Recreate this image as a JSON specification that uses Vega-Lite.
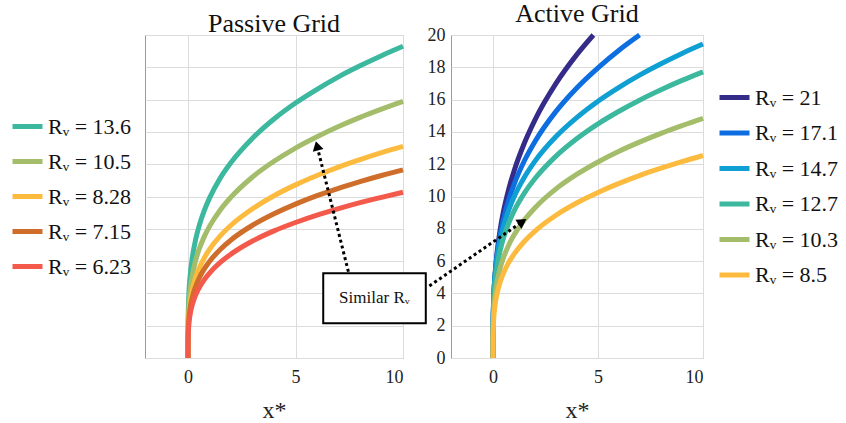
{
  "$schema": "https://vega.github.io/schema/vega-lite/v6.json",
  "padding": {"left": 9, "top": 0, "right": 0, "bottom": 0},
  "config": {
    "font": "Liberation Serif",
    "view": {"stroke": "#9a9a9a", "strokeWidth": 1},
    "axis": {"gridColor": "#dcdcdc", "gridWidth": 1, "labelFont": "Liberation Serif", "titleFont": "Liberation Serif", "labelColor": "#222", "titleColor": "#222", "ticks": false, "domain": false, "labelOverlap": false},
    "title": {"font": "Liberation Serif", "fontSize": 26, "fontWeight": "normal", "color": "#111", "offset": -2},
    "legend": {"title": null, "symbolType": "stroke", "symbolStrokeWidth": 5, "symbolSize": 900, "labelFont": "Liberation Serif", "labelFontSize": 22, "labelColor": "#111", "labelOffset": 3, "labelLimit": 300},
    "text": {"font": "Liberation Serif"}
  },
  "datasets": {
    "passive": [
      {"s": "Rᵥ = 13.6", "x": 0, "y": 0}, {"s": "Rᵥ = 13.6", "x": 0.002, "y": 1.63}, {"s": "Rᵥ = 13.6", "x": 0.01, "y": 2.6}, {"s": "Rᵥ = 13.6", "x": 0.03, "y": 3.58}, {"s": "Rᵥ = 13.6", "x": 0.1, "y": 5.08}, {"s": "Rᵥ = 13.6", "x": 0.2, "y": 6.21}, {"s": "Rᵥ = 13.6", "x": 0.35, "y": 7.3}, {"s": "Rᵥ = 13.6", "x": 0.5, "y": 8.1}, {"s": "Rᵥ = 13.6", "x": 0.75, "y": 9.11}, {"s": "Rᵥ = 13.6", "x": 1, "y": 9.9}, {"s": "Rᵥ = 13.6", "x": 1.5, "y": 11.14}, {"s": "Rᵥ = 13.6", "x": 2, "y": 12.1}, {"s": "Rᵥ = 13.6", "x": 3, "y": 13.61}, {"s": "Rᵥ = 13.6", "x": 4, "y": 14.8}, {"s": "Rᵥ = 13.6", "x": 5, "y": 15.79}, {"s": "Rᵥ = 13.6", "x": 6, "y": 16.64}, {"s": "Rᵥ = 13.6", "x": 7, "y": 17.41}, {"s": "Rᵥ = 13.6", "x": 8, "y": 18.09}, {"s": "Rᵥ = 13.6", "x": 9, "y": 18.72}, {"s": "Rᵥ = 13.6", "x": 10, "y": 19.3},
      {"s": "Rᵥ = 10.5", "x": 0, "y": 0}, {"s": "Rᵥ = 10.5", "x": 0.002, "y": 1.34}, {"s": "Rᵥ = 10.5", "x": 0.01, "y": 2.14}, {"s": "Rᵥ = 10.5", "x": 0.03, "y": 2.95}, {"s": "Rᵥ = 10.5", "x": 0.1, "y": 4.18}, {"s": "Rᵥ = 10.5", "x": 0.2, "y": 5.11}, {"s": "Rᵥ = 10.5", "x": 0.35, "y": 6.01}, {"s": "Rᵥ = 10.5", "x": 0.5, "y": 6.67}, {"s": "Rᵥ = 10.5", "x": 0.75, "y": 7.5}, {"s": "Rᵥ = 10.5", "x": 1, "y": 8.15}, {"s": "Rᵥ = 10.5", "x": 1.5, "y": 9.17}, {"s": "Rᵥ = 10.5", "x": 2, "y": 9.96}, {"s": "Rᵥ = 10.5", "x": 3, "y": 11.21}, {"s": "Rᵥ = 10.5", "x": 4, "y": 12.18}, {"s": "Rᵥ = 10.5", "x": 5, "y": 13.0}, {"s": "Rᵥ = 10.5", "x": 6, "y": 13.7}, {"s": "Rᵥ = 10.5", "x": 7, "y": 14.33}, {"s": "Rᵥ = 10.5", "x": 8, "y": 14.9}, {"s": "Rᵥ = 10.5", "x": 9, "y": 15.41}, {"s": "Rᵥ = 10.5", "x": 10, "y": 15.89},
      {"s": "Rᵥ = 8.28", "x": 0, "y": 0}, {"s": "Rᵥ = 8.28", "x": 0.002, "y": 1.11}, {"s": "Rᵥ = 8.28", "x": 0.01, "y": 1.77}, {"s": "Rᵥ = 8.28", "x": 0.03, "y": 2.43}, {"s": "Rᵥ = 8.28", "x": 0.1, "y": 3.45}, {"s": "Rᵥ = 8.28", "x": 0.2, "y": 4.21}, {"s": "Rᵥ = 8.28", "x": 0.35, "y": 4.96}, {"s": "Rᵥ = 8.28", "x": 0.5, "y": 5.5}, {"s": "Rᵥ = 8.28", "x": 0.75, "y": 6.18}, {"s": "Rᵥ = 8.28", "x": 1, "y": 6.72}, {"s": "Rᵥ = 8.28", "x": 1.5, "y": 7.56}, {"s": "Rᵥ = 8.28", "x": 2, "y": 8.22}, {"s": "Rᵥ = 8.28", "x": 3, "y": 9.24}, {"s": "Rᵥ = 8.28", "x": 4, "y": 10.05}, {"s": "Rᵥ = 8.28", "x": 5, "y": 10.72}, {"s": "Rᵥ = 8.28", "x": 6, "y": 11.3}, {"s": "Rᵥ = 8.28", "x": 7, "y": 11.82}, {"s": "Rᵥ = 8.28", "x": 8, "y": 12.28}, {"s": "Rᵥ = 8.28", "x": 9, "y": 12.71}, {"s": "Rᵥ = 8.28", "x": 10, "y": 13.1},
      {"s": "Rᵥ = 7.15", "x": 0, "y": 0}, {"s": "Rᵥ = 7.15", "x": 0.002, "y": 0.99}, {"s": "Rᵥ = 7.15", "x": 0.01, "y": 1.57}, {"s": "Rᵥ = 7.15", "x": 0.03, "y": 2.16}, {"s": "Rᵥ = 7.15", "x": 0.1, "y": 3.07}, {"s": "Rᵥ = 7.15", "x": 0.2, "y": 3.75}, {"s": "Rᵥ = 7.15", "x": 0.35, "y": 4.41}, {"s": "Rᵥ = 7.15", "x": 0.5, "y": 4.89}, {"s": "Rᵥ = 7.15", "x": 0.75, "y": 5.5}, {"s": "Rᵥ = 7.15", "x": 1, "y": 5.98}, {"s": "Rᵥ = 7.15", "x": 1.5, "y": 6.72}, {"s": "Rᵥ = 7.15", "x": 2, "y": 7.31}, {"s": "Rᵥ = 7.15", "x": 3, "y": 8.22}, {"s": "Rᵥ = 7.15", "x": 4, "y": 8.93}, {"s": "Rᵥ = 7.15", "x": 5, "y": 9.53}, {"s": "Rᵥ = 7.15", "x": 6, "y": 10.05}, {"s": "Rᵥ = 7.15", "x": 7, "y": 10.51}, {"s": "Rᵥ = 7.15", "x": 8, "y": 10.92}, {"s": "Rᵥ = 7.15", "x": 9, "y": 11.3}, {"s": "Rᵥ = 7.15", "x": 10, "y": 11.65},
      {"s": "Rᵥ = 6.23", "x": 0, "y": 0}, {"s": "Rᵥ = 6.23", "x": 0.002, "y": 0.87}, {"s": "Rᵥ = 6.23", "x": 0.01, "y": 1.38}, {"s": "Rᵥ = 6.23", "x": 0.03, "y": 1.9}, {"s": "Rᵥ = 6.23", "x": 0.1, "y": 2.7}, {"s": "Rᵥ = 6.23", "x": 0.2, "y": 3.3}, {"s": "Rᵥ = 6.23", "x": 0.35, "y": 3.88}, {"s": "Rᵥ = 6.23", "x": 0.5, "y": 4.3}, {"s": "Rᵥ = 6.23", "x": 0.75, "y": 4.84}, {"s": "Rᵥ = 6.23", "x": 1, "y": 5.26}, {"s": "Rᵥ = 6.23", "x": 1.5, "y": 5.92}, {"s": "Rᵥ = 6.23", "x": 2, "y": 6.43}, {"s": "Rᵥ = 6.23", "x": 3, "y": 7.24}, {"s": "Rᵥ = 6.23", "x": 4, "y": 7.87}, {"s": "Rᵥ = 6.23", "x": 5, "y": 8.39}, {"s": "Rᵥ = 6.23", "x": 6, "y": 8.85}, {"s": "Rᵥ = 6.23", "x": 7, "y": 9.25}, {"s": "Rᵥ = 6.23", "x": 8, "y": 9.62}, {"s": "Rᵥ = 6.23", "x": 9, "y": 9.95}, {"s": "Rᵥ = 6.23", "x": 10, "y": 10.26}
    ],
    "active": [
      {"s": "Rᵥ = 21", "x": 0, "y": 0}, {"s": "Rᵥ = 21", "x": 0.002, "y": 1.31}, {"s": "Rᵥ = 21", "x": 0.01, "y": 2.31}, {"s": "Rᵥ = 21", "x": 0.03, "y": 3.39}, {"s": "Rᵥ = 21", "x": 0.1, "y": 5.17}, {"s": "Rᵥ = 21", "x": 0.2, "y": 6.59}, {"s": "Rᵥ = 21", "x": 0.35, "y": 8.01}, {"s": "Rᵥ = 21", "x": 0.5, "y": 9.08}, {"s": "Rᵥ = 21", "x": 0.75, "y": 10.46}, {"s": "Rᵥ = 21", "x": 1, "y": 11.57}, {"s": "Rᵥ = 21", "x": 1.5, "y": 13.33}, {"s": "Rᵥ = 21", "x": 2, "y": 14.75}, {"s": "Rᵥ = 21", "x": 3, "y": 17.0}, {"s": "Rᵥ = 21", "x": 4, "y": 18.8}, {"s": "Rᵥ = 21", "x": 4.78, "y": 20.0},
      {"s": "Rᵥ = 17.1", "x": 0, "y": 0}, {"s": "Rᵥ = 17.1", "x": 0.002, "y": 1.47}, {"s": "Rᵥ = 17.1", "x": 0.01, "y": 2.46}, {"s": "Rᵥ = 17.1", "x": 0.03, "y": 3.5}, {"s": "Rᵥ = 17.1", "x": 0.1, "y": 5.14}, {"s": "Rᵥ = 17.1", "x": 0.2, "y": 6.42}, {"s": "Rᵥ = 17.1", "x": 0.35, "y": 7.68}, {"s": "Rᵥ = 17.1", "x": 0.5, "y": 8.6}, {"s": "Rᵥ = 17.1", "x": 0.75, "y": 9.8}, {"s": "Rᵥ = 17.1", "x": 1, "y": 10.74}, {"s": "Rᵥ = 17.1", "x": 1.5, "y": 12.23}, {"s": "Rᵥ = 17.1", "x": 2, "y": 13.41}, {"s": "Rᵥ = 17.1", "x": 3, "y": 15.27}, {"s": "Rᵥ = 17.1", "x": 4, "y": 16.74}, {"s": "Rᵥ = 17.1", "x": 5, "y": 17.97}, {"s": "Rᵥ = 17.1", "x": 6, "y": 19.06}, {"s": "Rᵥ = 17.1", "x": 6.98, "y": 20.0},
      {"s": "Rᵥ = 14.7", "x": 0, "y": 0}, {"s": "Rᵥ = 14.7", "x": 0.002, "y": 1.64}, {"s": "Rᵥ = 14.7", "x": 0.01, "y": 2.62}, {"s": "Rᵥ = 14.7", "x": 0.03, "y": 3.61}, {"s": "Rᵥ = 14.7", "x": 0.1, "y": 5.11}, {"s": "Rᵥ = 14.7", "x": 0.2, "y": 6.25}, {"s": "Rᵥ = 14.7", "x": 0.35, "y": 7.35}, {"s": "Rᵥ = 14.7", "x": 0.5, "y": 8.15}, {"s": "Rᵥ = 14.7", "x": 0.75, "y": 9.17}, {"s": "Rᵥ = 14.7", "x": 1, "y": 9.97}, {"s": "Rᵥ = 14.7", "x": 1.5, "y": 11.21}, {"s": "Rᵥ = 14.7", "x": 2, "y": 12.19}, {"s": "Rᵥ = 14.7", "x": 3, "y": 13.71}, {"s": "Rᵥ = 14.7", "x": 4, "y": 14.9}, {"s": "Rᵥ = 14.7", "x": 5, "y": 15.9}, {"s": "Rᵥ = 14.7", "x": 6, "y": 16.76}, {"s": "Rᵥ = 14.7", "x": 7, "y": 17.53}, {"s": "Rᵥ = 14.7", "x": 8, "y": 18.22}, {"s": "Rᵥ = 14.7", "x": 9, "y": 18.86}, {"s": "Rᵥ = 14.7", "x": 10, "y": 19.44},
      {"s": "Rᵥ = 12.7", "x": 0, "y": 0}, {"s": "Rᵥ = 12.7", "x": 0.002, "y": 1.5}, {"s": "Rᵥ = 12.7", "x": 0.01, "y": 2.39}, {"s": "Rᵥ = 12.7", "x": 0.03, "y": 3.29}, {"s": "Rᵥ = 12.7", "x": 0.1, "y": 4.66}, {"s": "Rᵥ = 12.7", "x": 0.2, "y": 5.7}, {"s": "Rᵥ = 12.7", "x": 0.35, "y": 6.7}, {"s": "Rᵥ = 12.7", "x": 0.5, "y": 7.44}, {"s": "Rᵥ = 12.7", "x": 0.75, "y": 8.36}, {"s": "Rᵥ = 12.7", "x": 1, "y": 9.09}, {"s": "Rᵥ = 12.7", "x": 1.5, "y": 10.22}, {"s": "Rᵥ = 12.7", "x": 2, "y": 11.11}, {"s": "Rᵥ = 12.7", "x": 3, "y": 12.5}, {"s": "Rᵥ = 12.7", "x": 4, "y": 13.59}, {"s": "Rᵥ = 12.7", "x": 5, "y": 14.5}, {"s": "Rᵥ = 12.7", "x": 6, "y": 15.28}, {"s": "Rᵥ = 12.7", "x": 7, "y": 15.98}, {"s": "Rᵥ = 12.7", "x": 8, "y": 16.61}, {"s": "Rᵥ = 12.7", "x": 9, "y": 17.19}, {"s": "Rᵥ = 12.7", "x": 10, "y": 17.72},
      {"s": "Rᵥ = 10.3", "x": 0, "y": 0}, {"s": "Rᵥ = 10.3", "x": 0.002, "y": 1.26}, {"s": "Rᵥ = 10.3", "x": 0.01, "y": 2.0}, {"s": "Rᵥ = 10.3", "x": 0.03, "y": 2.75}, {"s": "Rᵥ = 10.3", "x": 0.1, "y": 3.9}, {"s": "Rᵥ = 10.3", "x": 0.2, "y": 4.77}, {"s": "Rᵥ = 10.3", "x": 0.35, "y": 5.61}, {"s": "Rᵥ = 10.3", "x": 0.5, "y": 6.22}, {"s": "Rᵥ = 10.3", "x": 0.75, "y": 7.0}, {"s": "Rᵥ = 10.3", "x": 1, "y": 7.61}, {"s": "Rᵥ = 10.3", "x": 1.5, "y": 8.56}, {"s": "Rᵥ = 10.3", "x": 2, "y": 9.3}, {"s": "Rᵥ = 10.3", "x": 3, "y": 10.47}, {"s": "Rᵥ = 10.3", "x": 4, "y": 11.38}, {"s": "Rᵥ = 10.3", "x": 5, "y": 12.14}, {"s": "Rᵥ = 10.3", "x": 6, "y": 12.8}, {"s": "Rᵥ = 10.3", "x": 7, "y": 13.38}, {"s": "Rᵥ = 10.3", "x": 8, "y": 13.91}, {"s": "Rᵥ = 10.3", "x": 9, "y": 14.39}, {"s": "Rᵥ = 10.3", "x": 10, "y": 14.84},
      {"s": "Rᵥ = 8.5", "x": 0, "y": 0}, {"s": "Rᵥ = 8.5", "x": 0.002, "y": 1.06}, {"s": "Rᵥ = 8.5", "x": 0.01, "y": 1.69}, {"s": "Rᵥ = 8.5", "x": 0.03, "y": 2.33}, {"s": "Rᵥ = 8.5", "x": 0.1, "y": 3.3}, {"s": "Rᵥ = 8.5", "x": 0.2, "y": 4.03}, {"s": "Rᵥ = 8.5", "x": 0.35, "y": 4.74}, {"s": "Rᵥ = 8.5", "x": 0.5, "y": 5.26}, {"s": "Rᵥ = 8.5", "x": 0.75, "y": 5.92}, {"s": "Rᵥ = 8.5", "x": 1, "y": 6.43}, {"s": "Rᵥ = 8.5", "x": 1.5, "y": 7.23}, {"s": "Rᵥ = 8.5", "x": 2, "y": 7.86}, {"s": "Rᵥ = 8.5", "x": 3, "y": 8.84}, {"s": "Rᵥ = 8.5", "x": 4, "y": 9.61}, {"s": "Rᵥ = 8.5", "x": 5, "y": 10.25}, {"s": "Rᵥ = 8.5", "x": 6, "y": 10.81}, {"s": "Rᵥ = 8.5", "x": 7, "y": 11.31}, {"s": "Rᵥ = 8.5", "x": 8, "y": 11.75}, {"s": "Rᵥ = 8.5", "x": 9, "y": 12.16}, {"s": "Rᵥ = 8.5", "x": 10, "y": 12.54}
    ],
    "box": [{"x": 6.29, "x2": 11.06, "y": 2.15, "y2": 5.24}],
    "boxlabel": [{"x": 8.67, "y": 3.71, "label": "Similar Rᵥ"}],
    "arrow1": [{"x": 7.46, "y": 5.34, "x2": 6.0, "y2": 13.14}],
    "head1": [{"x": 6.0, "y": 13.14}],
    "arrow2": [{"x": -3.03, "y": 4.46, "x2": 1.4, "y2": 8.44}],
    "head2": [{"x": 1.4, "y": 8.44}]
  },
  "hconcat": [
    {
      "width": 258,
      "height": 323,
      "title": {"text": "Passive Grid", "font": "Liberation Serif"},
      "encoding": {
        "x": {"field": "x", "type": "quantitative", "scale": {"domain": [-2, 10], "nice": false}, "axis": {"values": [0, 5, 10], "labelFont": "Liberation Serif", "labelFontSize": 18, "labelPadding": 10, "title": "x*", "titleFont": "Liberation Serif", "titleFontSize": 24, "titleFontWeight": "normal", "titlePadding": 12}},
        "y": {"field": "y", "type": "quantitative", "scale": {"domain": [0, 20], "nice": false}, "axis": {"values": [0, 2, 4, 6, 8, 10, 12, 14, 16, 18, 20], "labels": false, "title": null}}
      },
      "layer": [
        {
          "data": {"name": "passive"},
          "mark": {"type": "line", "strokeWidth": 5, "interpolate": "monotone", "strokeCap": "butt"},
          "encoding": {
            "color": {"field": "s", "type": "nominal", "sort": null,
              "scale": {"domain": ["Rᵥ = 13.6", "Rᵥ = 10.5", "Rᵥ = 8.28", "Rᵥ = 7.15", "Rᵥ = 6.23"], "range": ["#3cb89f", "#a3bd6a", "#fcbb3e", "#cf6d2b", "#f45a4b"]},
              "legend": {"orient": "none", "legendX": -135, "legendY": 74, "rowPadding": 6, "labelFont": "Liberation Serif"}}
          }
        },
        {
          "data": {"name": "box"},
          "mark": {"type": "rect", "fill": "white", "stroke": "black", "strokeWidth": 2, "clip": false},
          "encoding": {"x2": {"field": "x2"}, "y2": {"field": "y2"}}
        },
        {
          "data": {"name": "boxlabel"},
          "mark": {"type": "text", "fontSize": 17, "font": "Liberation Serif", "color": "#111", "clip": false},
          "encoding": {"text": {"field": "label"}}
        },
        {
          "data": {"name": "arrow1"},
          "mark": {"type": "rule", "strokeWidth": 3, "strokeDash": [3, 3], "color": "black"},
          "encoding": {"x2": {"field": "x2"}, "y2": {"field": "y2"}}
        },
        {
          "data": {"name": "head1"},
          "mark": {"type": "point", "shape": "triangle-up", "filled": true, "color": "black", "opacity": 1, "size": 120, "angle": 346},
          "encoding": {}
        }
      ]
    },
    {
      "width": 252,
      "height": 323,
      "title": {"text": "Active Grid", "font": "Liberation Serif"},
      "encoding": {
        "x": {"field": "x", "type": "quantitative", "scale": {"domain": [-2, 10], "nice": false}, "axis": {"values": [0, 5, 10], "labelFont": "Liberation Serif", "labelFontSize": 18, "labelPadding": 10, "title": "x*", "titleFont": "Liberation Serif", "titleFontSize": 24, "titleFontWeight": "normal", "titlePadding": 12}},
        "y": {"field": "y", "type": "quantitative", "scale": {"domain": [0, 20], "nice": false}, "axis": {"values": [0, 2, 4, 6, 8, 10, 12, 14, 16, 18, 20], "labelFont": "Liberation Serif", "labelFontSize": 18, "labelPadding": 6, "title": null}}
      },
      "layer": [
        {
          "data": {"name": "active"},
          "mark": {"type": "line", "strokeWidth": 5, "interpolate": "monotone", "strokeCap": "butt"},
          "encoding": {
            "color": {"field": "s", "type": "nominal", "sort": null,
              "scale": {"domain": ["Rᵥ = 21", "Rᵥ = 17.1", "Rᵥ = 14.7", "Rᵥ = 12.7", "Rᵥ = 10.3", "Rᵥ = 8.5"], "range": ["#352c89", "#0c6ee0", "#109fd2", "#3cb89f", "#a3bd6a", "#fcbb3e"]},
              "legend": {"orient": "none", "legendX": 266, "legendY": 45, "rowPadding": 6.5, "labelFont": "Liberation Serif"}}
          }
        },
        {
          "data": {"name": "arrow2"},
          "mark": {"type": "rule", "strokeWidth": 3, "strokeDash": [3, 3], "color": "black", "clip": false},
          "encoding": {"x2": {"field": "x2"}, "y2": {"field": "y2"}}
        },
        {
          "data": {"name": "head2"},
          "mark": {"type": "point", "shape": "triangle-up", "filled": true, "color": "black", "opacity": 1, "size": 120, "angle": 56},
          "encoding": {}
        }
      ]
    }
  ],
  "spacing": 48,
  "bounds": "flush",
  "resolve": {"scale": {"color": "independent", "x": "independent", "y": "independent"}}
}
